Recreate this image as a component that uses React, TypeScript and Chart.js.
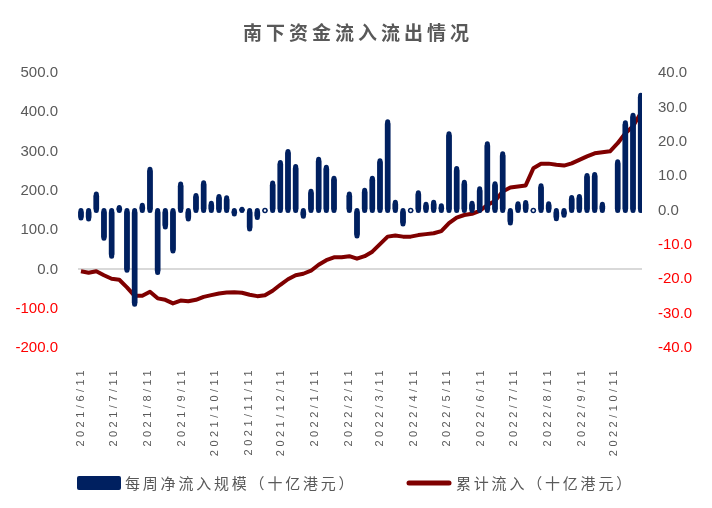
import React, { useEffect, useRef } from 'react';
import { Chart, registerables } from 'chart.js';

Chart.register(...registerables);

const titleText = '南下资金流入流出情况';
const barLabel = '每周净流入规模（十亿港元）';
const lineLabel = '累计流入（十亿港元）';

const weekDates = [
  '2021/6/11', '2021/6/18', '2021/6/25', '2021/7/2', '2021/7/9', '2021/7/16', '2021/7/23', '2021/7/30',
  '2021/8/6', '2021/8/13', '2021/8/20', '2021/8/27', '2021/9/3', '2021/9/10', '2021/9/17', '2021/9/24',
  '2021/10/1', '2021/10/8', '2021/10/15', '2021/10/22', '2021/10/29', '2021/11/5', '2021/11/12', '2021/11/19',
  '2021/11/26', '2021/12/3', '2021/12/10', '2021/12/17', '2021/12/24', '2021/12/31',
  '2022/1/7', '2022/1/14', '2022/1/21', '2022/1/28', '2022/2/4', '2022/2/11', '2022/2/18', '2022/2/25',
  '2022/3/4', '2022/3/11', '2022/3/18', '2022/3/25', '2022/4/1', '2022/4/8', '2022/4/15', '2022/4/22',
  '2022/4/29', '2022/5/6', '2022/5/13', '2022/5/20', '2022/5/27', '2022/6/3', '2022/6/10', '2022/6/17',
  '2022/6/24', '2022/7/1', '2022/7/8', '2022/7/15', '2022/7/22', '2022/7/29', '2022/8/5', '2022/8/12',
  '2022/8/19', '2022/8/26', '2022/9/2', '2022/9/9', '2022/9/16', '2022/9/23', '2022/9/30', '2022/10/7',
  '2022/10/14', '2022/10/21', '2022/10/28', '2022/11/4',
];

// weekly net southbound inflow (right axis)
const weeklyFlow: (number | null)[] = [
  -2.2, -2.5, 4.8, -8.1, -13.3, 0.9, -17.4, -27.3, 1.5, 12.0,
  -18.0, -4.8, -11.8, 7.7, -2.5, 4.4, 8.1, 2.1, 4.1, 3.7,
  -1.0, 0.4, -5.4, -2.0, 0, 8.0, 14.0, 17.2, 12.8, -1.7,
  5.6, 14.9, 12.6, 9.4, null, 4.8, -7.4, 5.9, 9.4, 14.5,
  25.8, 2.4, -3.9, 0, 5.2, 1.8, 2.4, 1.4, 22.3, 12.2,
  8.2, 2.1, 6.3, 19.4, 7.8, 16.5, -3.6, 2.0, 2.3, 0,
  7.2, 2.0, -2.4, -1.4, 3.8, 4.1, 10.2, 10.5, 1.8, null,
  14.2, 25.5, 27.7, 33.5,
];

// cumulative inflow (left axis)
const cumulativeFlow: number[] = [
  -4.6, -8.4, -4.6, -14.8, -23.8, -26.3, -45.5, -67.2, -67.2, -57.0,
  -73.6, -77.4, -86.4, -79.2, -81.2, -77.4, -69.8, -65.4, -61.3, -58.8,
  -58.3, -59.5, -64.6, -68.0, -65.9, -54.4, -39.1, -25.0, -14.8, -11.0,
  -3.3, 12.0, 23.5, 30.7, 31.2, 33.7, 27.3, 33.7, 45.2, 64.4,
  83.5, 86.1, 83.5, 83.5, 87.4, 89.9, 92.0, 97.6, 118.0, 132.1,
  138.5, 141.5, 149.2, 164.0, 174.2, 198.5, 208.7, 211.3, 213.8, 257.3,
  268.8, 269.3, 266.2, 264.4, 270.1, 279.0, 287.9, 295.6, 298.2, 300.7,
  321.2, 346.7, 364.6, 397.8,
];

const xTickLabels = [
  '2021/6/11', '2021/7/11', '2021/8/11', '2021/9/11', '2021/10/11', '2021/11/11', '2021/12/11',
  '2022/1/11', '2022/2/11', '2022/3/11', '2022/4/11', '2022/5/11', '2022/6/11', '2022/7/11',
  '2022/8/11', '2022/9/11', '2022/10/11',
];

const NAVY = '#002060';
const MAROON = '#7F0000';
const GRAY = '#595959';
const RED = '#FF0000';

const toUTC = (s: string) => {
  const [y, m, d] = s.split('/').map(Number);
  return Date.UTC(y, m - 1, d);
};
const BASE = toUTC(weekDates[0]);
const dayOf = (s: string) => Math.round((toUTC(s) - BASE) / 86400000);

export default function App() {
  const canvasRef = useRef<HTMLCanvasElement | null>(null);

  useEffect(() => {
    const canvas = canvasRef.current;
    if (!canvas) return;
    const tickDays = xTickLabels.map(dayOf);
    const barData = weekDates.map((d, i) => ({ x: dayOf(d), y: weeklyFlow[i] }));
    const lineData = weekDates.map((d, i) => ({ x: dayOf(d), y: cumulativeFlow[i] }));

    const spacingPlugin = {
      id: 'xLabelSpacing',
      beforeDraw(chart: any) {
        const s: any = chart.scales.x;
        if (s && !s.__patched) {
          const orig = s.drawLabels.bind(s);
          s.drawLabels = (area: any) => {
            const c: any = chart.ctx;
            c.save();
            c.letterSpacing = '3.5px';
            orig(area);
            c.restore();
          };
          s.__patched = true;
        }
      },
    };

    const capsPlugin = {
      id: 'roundCaps',
      afterDatasetsDraw(chart: any) {
        const meta = chart.getDatasetMeta(0);
        const c = chart.ctx;
        const a = chart.chartArea;
        c.save();
        c.beginPath();
        c.rect(a.left, a.top, a.right - a.left, a.bottom - a.top);
        c.clip();
        meta.data.forEach((el: any, i: number) => {
          const v = weeklyFlow[i];
          if (v === null || v === undefined) return;
          const p = el.getProps(['x', 'y', 'base'], true);
          if (v === 0) {
            c.beginPath();
            c.arc(p.x, p.base, 2, 0, Math.PI * 2);
            c.fillStyle = '#ffffff';
            c.fill();
            c.lineWidth = 1.5;
            c.strokeStyle = NAVY;
            c.stroke();
          } else {
            c.beginPath();
            c.moveTo(p.x, p.base);
            c.lineTo(p.x, p.y);
            c.lineWidth = 5;
            c.lineCap = 'round';
            c.strokeStyle = NAVY;
            c.stroke();
          }
        });
        c.restore();
      },
    };

    const titleLegendPlugin = {
      id: 'titleLegend',
      afterDraw(chart: any) {
        const c: any = chart.ctx;
        c.save();
        c.letterSpacing = '4px';
        c.font = 'bold 19px "Noto Sans CJK SC"';
        c.fillStyle = GRAY;
        c.textAlign = 'center';
        c.textBaseline = 'middle';
        c.fillText(titleText, chart.width / 2 + 2, 33);

        const ly = 483;
        // bar legend item
        c.fillStyle = chart.data.datasets[0].backgroundColor;
        c.beginPath();
        c.roundRect(77, ly - 7, 44, 14, 2);
        c.fill();
        c.letterSpacing = '2.8px';
        c.font = '15px "Noto Sans CJK SC"';
        c.fillStyle = GRAY;
        c.textAlign = 'left';
        c.fillText(chart.data.datasets[0].label, 125, ly);
        // line legend item
        c.beginPath();
        c.moveTo(409, ly);
        c.lineTo(449, ly);
        c.lineWidth = 5;
        c.lineCap = 'round';
        c.strokeStyle = chart.data.datasets[1].borderColor;
        c.stroke();
        c.fillText(chart.data.datasets[1].label, 456, ly);
        c.restore();
      },
    };

    const tickFont = { family: '"Liberation Sans", sans-serif', size: 15 };

    const chart = new Chart(canvas, {
      type: 'bar',
      data: {
        datasets: [
          {
            type: 'bar',
            label: barLabel,
            data: barData as any,
            xAxisID: 'x',
            yAxisID: 'y1',
            backgroundColor: NAVY,
            barThickness: 5,
            borderRadius: 2.5,
            borderSkipped: false,
            order: 0,
          } as any,
          {
            type: 'line',
            label: lineLabel,
            data: lineData as any,
            xAxisID: 'x',
            yAxisID: 'y',
            borderColor: MAROON,
            backgroundColor: MAROON,
            borderWidth: 4,
            pointRadius: 0,
            tension: 0,
            borderJoinStyle: 'round',
            order: 1,
          } as any,
        ],
      },
      options: {
        responsive: false,
        animation: false,
        events: [],
        layout: { padding: { top: 73, left: 0, right: 0, bottom: 0 } },
        plugins: {
          legend: { display: false },
          title: { display: false },
          tooltip: { enabled: false },
        },
        scales: {
          x: {
            type: 'linear',
            position: 'bottom',
            min: -2.7,
            max: 512.2,
            offset: false,
            bounds: 'data',
            grid: { display: false, drawTicks: false },
            border: { display: false },
            afterFit: (s: any) => { s.height = 160; },
            afterBuildTicks: (s: any) => { s.ticks = tickDays.map((v) => ({ value: v })); },
            ticks: {
              autoSkip: false,
              minRotation: 90,
              maxRotation: 90,
              padding: 19,
              color: GRAY,
              font: { family: '"Liberation Sans", sans-serif', size: 11 },
              callback: (v: any) => {
                const i = tickDays.indexOf(Number(v));
                return i >= 0 ? xTickLabels[i] : '';
              },
            },
          } as any,
          y: {
            type: 'linear',
            position: 'left',
            min: -200,
            max: 500,
            grid: {
              drawTicks: false,
              lineWidth: 2,
              color: (c: any) => (c.tick && c.tick.value === 0 ? '#D9D9D9' : 'rgba(0,0,0,0)'),
            },
            border: { display: false },
            afterFit: (s: any) => { s.width = 78; },
            ticks: {
              stepSize: 100,
              padding: 20,
              font: tickFont,
              color: (c: any) => (c.tick && c.tick.value < 0 ? RED : GRAY),
              callback: (v: any) => Number(v).toFixed(1),
            },
          } as any,
          y1: {
            type: 'linear',
            position: 'right',
            min: -40,
            max: 40,
            grid: { display: false, drawTicks: false },
            border: { display: false },
            afterFit: (s: any) => { s.width = 70; },
            ticks: {
              stepSize: 10,
              padding: 16,
              font: tickFont,
              color: (c: any) => (c.tick && c.tick.value < 0 ? RED : GRAY),
              callback: (v: any) => Number(v).toFixed(1),
            },
          } as any,
        },
      },
      plugins: [spacingPlugin, capsPlugin, titleLegendPlugin],
    } as any);

    return () => chart.destroy();
  }, []);

  return (
    <div style={{ position: 'absolute', left: 0, top: 0, width: 712, height: 508, background: '#ffffff' }}>
      <canvas ref={canvasRef} width={712} height={508} style={{ display: 'block', width: 712, height: 508 }} />
    </div>
  );
}
